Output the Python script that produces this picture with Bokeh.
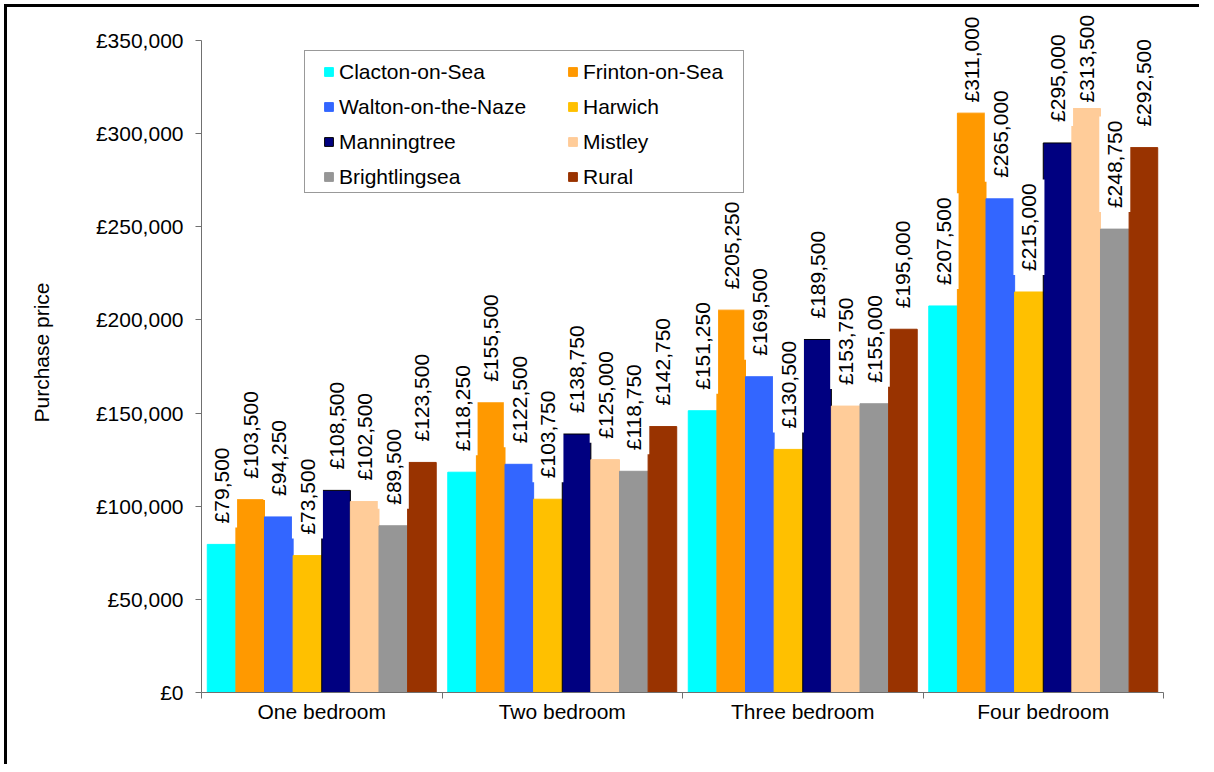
import numpy as np
from bokeh.plotting import figure
from bokeh.models import (Range1d, FixedTicker, CustomJSTickFormatter, Legend,
                          LegendItem, ColumnDataSource)
from bokeh.embed import file_html
from bokeh.resources import INLINE
from bokeh.core.properties import value

# ---------------- data ----------------
categories = ["One bedroom", "Two bedroom", "Three bedroom", "Four bedroom"]
series_names = ["Clacton-on-Sea", "Frinton-on-Sea", "Walton-on-the-Naze", "Harwich",
                "Manningtree", "Mistley", "Brightlingsea", "Rural"]
clacton = [79500, 118250, 151250, 207500]
frinton = [103500, 155500, 205250, 311000]
walton = [94250, 122500, 169500, 265000]
harwich = [73500, 103750, 130500, 215000]
manningtree = [108500, 138750, 189500, 295000]
mistley = [102500, 125000, 153750, 313500]
brightlingsea = [89500, 118750, 155000, 248750]
rural = [123500, 142750, 195000, 292500]
y_ticks = [0, 50000, 100000, 150000, 200000, 250000, 300000, 350000]

series_values = [clacton, frinton, walton, harwich, manningtree, mistley, brightlingsea, rural]

# ---------------- style ----------------
colors = ["#00FFFF", "#FF9900", "#3366FF", "#FFC000",
          "#000080", "#FFCC99", "#969696", "#993300"]
outline = [None, None, None, None, "black", None, None, None]
FONT = "Liberation Sans"
FS = "21px"
AXIS_COL = "#707070"

frame_h = 680          # px
axis_top_px = 28       # px from frame top to the 350k tick
y_max = y_ticks[-1]
y_end = y_max * frame_h / (frame_h - axis_top_px)
px2data = y_end / frame_h
label_gap = 17 * px2data
label_cap = y_end - (6 + 88) * px2data

group_frac = 0.952
bar_w = group_frac / len(series_names)

p = figure(width=1195, height=760, x_range=Range1d(0, len(categories)),
           y_range=Range1d(0, y_end), output_backend="svg", toolbar_location=None,
           min_border_left=194, min_border_right=39, min_border_top=5,
           min_border_bottom=75)
p.styles = {"border-top": "3px solid black", "border-left": "3px solid black",
            "margin-top": "4px", "margin-left": "4px"}
p.outline_line_color = None
p.xgrid.visible = False
p.ygrid.visible = False
p.background_fill_color = "white"
p.border_fill_color = "white"

renderers = []
for j, (name, vals) in enumerate(zip(series_names, series_values)):
    xs = [i + (1 - group_frac) / 2 + (j + 0.5) * bar_w for i in range(len(categories))]
    src = ColumnDataSource(dict(x=xs, top=vals))
    r = p.vbar(x="x", top="top", bottom=0, width=bar_w, source=src,
               fill_color=colors[j], line_color=outline[j] if outline[j] else colors[j],
               line_width=1)
    renderers.append(r)

# labels
for j, vals in enumerate(series_values):
    xs = [i + (1 - group_frac) / 2 + (j + 0.5) * bar_w for i in range(len(categories))]
    ys = [min(v + label_gap, label_cap) for v in vals]
    txt = ["£{:,}".format(v) for v in vals]
    src = ColumnDataSource(dict(x=xs, y=ys, t=txt))
    p.text(x="x", y="y", text="t", source=src, angle=np.pi / 2,
           text_align="left", text_baseline="middle",
           text_font=value(FONT), text_font_size=FS, text_color="black",
           background_fill_color="white", padding=4)

# y axis
ya = p.yaxis[0]
ya.ticker = FixedTicker(ticks=y_ticks)
ya.formatter = CustomJSTickFormatter(code="""
    return '£' + String(Math.round(tick)).replace(/\\B(?=(\\d{3})+(?!\\d))/g, ',');
""")
ya.bounds = (0, y_max)
ya.axis_line_color = AXIS_COL
ya.major_tick_line_color = AXIS_COL
ya.major_tick_out = 6
ya.major_tick_in = 0
ya.minor_tick_line_color = None
ya.major_label_standoff = 12
ya.major_label_text_font = FONT
ya.major_label_text_font_size = FS
ya.major_label_text_color = "black"
ya.axis_label = "Purchase price"
ya.axis_label_text_font = FONT
ya.axis_label_text_font_size = FS
ya.axis_label_text_font_style = "normal"
ya.axis_label_text_color = "black"
ya.axis_label_standoff = 40

# x axis
xa = p.xaxis[0]
xa.ticker = FixedTicker(ticks=[i + 0.5 for i in range(len(categories))],
                        minor_ticks=list(range(len(categories) + 1)))
xa.formatter = CustomJSTickFormatter(args=dict(cats=categories), code="""
    const i = Math.floor(tick);
    return (i >= 0 && i < cats.length) ? cats[i] : '';
""")
xa.axis_line_color = AXIS_COL
xa.major_tick_line_color = None
xa.major_tick_out = 0
xa.major_tick_in = 0
xa.minor_tick_line_color = AXIS_COL
xa.minor_tick_out = 6
xa.minor_tick_in = 0
xa.major_label_standoff = 1
xa.major_label_text_font = FONT
xa.major_label_text_font_size = FS
xa.major_label_text_color = "black"

# legend frame (an empty-labelled legend that only draws the box)
blank = p.scatter(x=[], y=[], fill_alpha=0, line_alpha=0)
frame_leg = Legend(items=[LegendItem(label=" ", renderers=[blank])],
                   location=(103, 499), padding=0, margin=0, spacing=0,
                   glyph_width=1, glyph_height=1, label_standoff=0,
                   label_width=437, label_height=141,
                   border_line_color="#333333", border_line_width=1,
                   background_fill_color="white", background_fill_alpha=1,
                   label_text_font_size="1px")
p.add_layout(frame_leg, "center")

common = dict(padding=0, margin=0, spacing=10, glyph_width=11, glyph_height=11,
              label_standoff=5, label_height=25, border_line_color=None,
              background_fill_alpha=0, label_text_font=FONT,
              label_text_font_size=FS, label_text_color="black")
leg_a = Legend(items=[LegendItem(label=series_names[k], renderers=[renderers[k]]) for k in (0, 2, 4, 6)],
               location=(122, 503), **common)
leg_b = Legend(items=[LegendItem(label=series_names[k], renderers=[renderers[k]]) for k in (1, 3, 5, 7)],
               location=(366, 503), **common)
p.add_layout(leg_a, "center")
p.add_layout(leg_b, "center")

open("out.html", "w").write(file_html(p, INLINE))
